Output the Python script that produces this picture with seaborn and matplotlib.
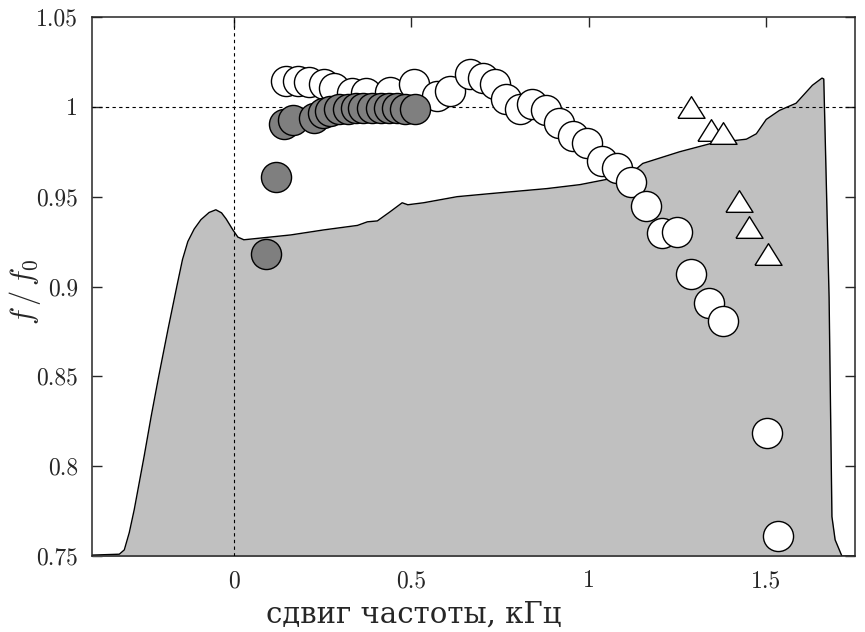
import matplotlib
matplotlib.use("Agg")
import matplotlib.pyplot as plt
import seaborn as sns
import pandas as pd
from matplotlib.ticker import FuncFormatter

# огибающая спектра (серый фон)
spec_x = [-0.40, -0.323, -0.309, -0.295, -0.281, -0.253, -0.233, -0.213, -0.185,
          -0.160, -0.145, -0.130, -0.112, -0.093, -0.070, -0.051, -0.035, -0.022,
          -0.003, 0.011, 0.028, 0.160, 0.253, 0.348, 0.376, 0.404, 0.440, 0.474,
          0.490, 0.534, 0.629, 0.722, 0.882, 0.975, 1.050, 1.120, 1.143, 1.152,
          1.256, 1.348, 1.444, 1.472, 1.500, 1.537, 1.584, 1.630, 1.657, 1.662,
          1.677, 1.685, 1.694, 1.713, 1.750]
spec_y = [0.7505, 0.751, 0.7534, 0.763, 0.7758, 0.8056, 0.828, 0.849, 0.877,
          0.901, 0.915, 0.925, 0.932, 0.9372, 0.9412, 0.9427, 0.941, 0.9376,
          0.9315, 0.9275, 0.926, 0.9287, 0.9315, 0.934, 0.936, 0.9365, 0.9416,
          0.9466, 0.9455, 0.9466, 0.950, 0.9517, 0.9545, 0.9567, 0.9596, 0.963,
          0.967, 0.9685, 0.975, 0.9798, 0.982, 0.985, 0.993, 0.998, 1.002, 1.012,
          1.016, 1.0155, 0.8938, 0.7719, 0.759, 0.750, 0.750]

# серые кружки
grey_x = [0.090, 0.118, 0.140, 0.165, 0.225, 0.250, 0.272, 0.295, 0.320, 0.343,
          0.365, 0.390, 0.413, 0.436, 0.460, 0.483, 0.511]
grey_y = [0.918, 0.9607, 0.9904, 0.9927, 0.9938, 0.9966, 0.9978, 0.9989, 0.999,
          0.9994, 0.9994, 0.9994, 0.9994, 0.9994, 0.9994, 0.999, 0.999]

# белые кружки
white_x = [0.146, 0.180, 0.211, 0.253, 0.281, 0.334, 0.371, 0.441, 0.506, 0.573,
           0.610, 0.666, 0.702, 0.736, 0.767, 0.806, 0.839, 0.879, 0.916, 0.955,
           0.995, 1.036, 1.079, 1.120, 1.160, 1.205, 1.248, 1.289, 1.340, 1.378,
           1.503, 1.534]
white_y = [1.0146, 1.0146, 1.014, 1.0129, 1.0107, 1.0079, 1.0079, 1.0084, 1.0129,
           1.0062, 1.009, 1.0185, 1.0163, 1.0128, 1.0043, 0.9987, 1.0015, 0.9981,
           0.9912, 0.9837, 0.980, 0.9697, 0.9659, 0.9579, 0.945, 0.9298, 0.9303,
           0.9067, 0.891, 0.881, 0.8185, 0.761]

# треугольники
tri_x = [1.289, 1.343, 1.379, 1.422, 1.452, 1.506]
tri_y = [1.000, 0.987, 0.9854, 0.9478, 0.9331, 0.9183]

sns.set_style("ticks")
plt.rcParams["font.family"] = ["cmr10", "DejaVu Serif"]
plt.rcParams["mathtext.fontset"] = "cm"
plt.rcParams["axes.formatter.use_mathtext"] = True

fig = plt.figure(figsize=(8.65, 6.32), dpi=100)
ax = fig.add_axes([92 / 865, 1 - 556 / 632, (855 - 92) / 865, (556 - 17) / 632])

ax.fill_between(spec_x, spec_y, 0.70, color="#c0c0c0", linewidth=0, zorder=1)
ax.plot(spec_x, spec_y, color="black", linewidth=1.0, zorder=2)

ax.axvline(0, color="black", linewidth=0.8, linestyle=(0, (3, 3)), zorder=3)
ax.axhline(1, color="black", linewidth=0.8, linestyle=(0, (3, 3)), zorder=3)

white = pd.DataFrame({"x": white_x, "y": white_y})
grey = pd.DataFrame({"x": grey_x, "y": grey_y})
tri = pd.DataFrame({"x": tri_x, "y": tri_y})

tri_marker = [(-1, -0.8), (1, -0.8), (0, 0.8), (-1, -0.8)]

sns.scatterplot(data=white, x="x", y="y", ax=ax, s=470, color="white",
                edgecolor="black", linewidth=1.0, zorder=4)
sns.scatterplot(data=grey, x="x", y="y", ax=ax, s=470, color="#7f7f7f",
                edgecolor="black", linewidth=1.0, zorder=5)
sns.scatterplot(data=tri, x="x", y="y", ax=ax, s=380, color="white", marker=tri_marker,
                edgecolor="black", linewidth=1.0, zorder=5)

ax.set_xlim(-0.4, 1.75)
ax.set_ylim(0.75, 1.05)
ax.set_xticks([0, 0.5, 1, 1.5])
ax.set_yticks([0.75, 0.8, 0.85, 0.9, 0.95, 1.0, 1.05])
fmt = FuncFormatter(lambda v, p: "%g" % round(v, 3))
ax.xaxis.set_major_formatter(fmt)
ax.yaxis.set_major_formatter(fmt)
ax.tick_params(direction="in", length=7, width=1.0, top=True, right=True,
               labelsize=17, pad=10)
for sp in ax.spines.values():
    sp.set_linewidth(1.1)

ax.set_xlabel("сдвиг частоты, кГц", fontsize=21, family=["DejaVu Serif"],
              fontweight="light")
ax.xaxis.set_label_coords(0.421, -0.083)
ax.set_ylabel(r"$f\,/\,f_0$", fontsize=22)
ax.yaxis.set_label_coords(-0.064, 0.49)

fig.savefig("out.png", dpi=100)
